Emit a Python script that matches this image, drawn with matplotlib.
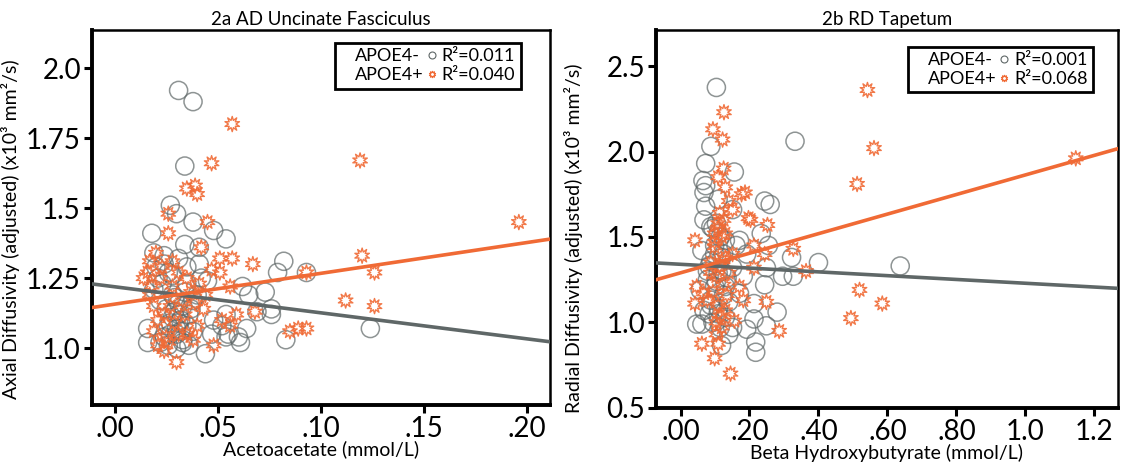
import matplotlib
matplotlib.use("Agg")
import matplotlib.pyplot as plt
from matplotlib.lines import Line2D
import numpy as np

plt.rcParams['font.family'] = ['Lato', 'DejaVu Sans']

GRAY = '#5f6767'
ORANGE = '#f06a35'

# ---- 2a : Acetoacetate vs AD Uncinate Fasciculus ----
aa_neg_x = [0.031, 0.038, 0.034, 0.027, 0.030, 0.038, 0.018, 0.048, 0.054, 0.034,
            0.041, 0.041, 0.082, 0.079, 0.093, 0.062, 0.073, 0.065, 0.076, 0.076,
            0.069, 0.054, 0.064, 0.060, 0.061, 0.054, 0.047, 0.083, 0.124, 0.044,
            0.036, 0.016, 0.016, 0.022, 0.026, 0.019, 0.024, 0.031, 0.021, 0.026,
            0.035, 0.028, 0.022, 0.031, 0.038, 0.028, 0.032, 0.035, 0.030, 0.024,
            0.033, 0.038, 0.031, 0.026, 0.019, 0.042, 0.035, 0.048, 0.052, 0.055,
            0.029, 0.033, 0.027, 0.030, 0.036, 0.025, 0.032, 0.029, 0.034, 0.023,
            0.028, 0.031, 0.037, 0.020, 0.027, 0.033, 0.040, 0.045, 0.024, 0.030]
aa_neg_y = [1.92, 1.88, 1.65, 1.51, 1.48, 1.45, 1.41, 1.42, 1.39, 1.37,
            1.36, 1.30, 1.31, 1.27, 1.27, 1.22, 1.20, 1.19, 1.14, 1.12,
            1.13, 1.12, 1.07, 1.04, 1.02, 1.04, 1.05, 1.03, 1.07, 0.98,
            1.01, 1.07, 1.02, 1.02, 1.01, 1.34, 1.30, 1.32, 1.25, 1.27,
            1.23, 1.19, 1.17, 1.16, 1.17, 1.11, 1.10, 1.08, 1.05, 1.04,
            1.03, 1.06, 1.12, 1.08, 1.21, 1.25, 1.29, 1.10, 1.08, 1.05,
            1.13, 1.15, 1.09, 1.07, 1.12, 1.14, 1.06, 1.18, 1.20, 1.23,
            1.26, 1.09, 1.14, 1.29, 1.05, 1.02, 1.19, 1.24, 1.33, 1.00]
aa_pos_x = [0.057, 0.047, 0.119, 0.035, 0.039, 0.040, 0.026, 0.026, 0.045, 0.042,
            0.196, 0.057, 0.051, 0.067, 0.120, 0.126, 0.051, 0.093, 0.112, 0.126,
            0.056, 0.068, 0.052, 0.085, 0.089, 0.093, 0.030, 0.024, 0.014, 0.016,
            0.020, 0.017, 0.019, 0.024, 0.019, 0.038, 0.040, 0.035, 0.031, 0.028,
            0.035, 0.041, 0.043, 0.028, 0.022, 0.047, 0.059, 0.026, 0.021, 0.056,
            0.048, 0.018, 0.023, 0.033, 0.037, 0.029, 0.021, 0.034, 0.039, 0.025,
            0.031, 0.044, 0.017, 0.027]
aa_pos_y = [1.80, 1.66, 1.67, 1.57, 1.58, 1.55, 1.48, 1.41, 1.45, 1.36,
            1.45, 1.32, 1.32, 1.30, 1.33, 1.27, 1.27, 1.27, 1.17, 1.15,
            1.22, 1.13, 1.10, 1.06, 1.07, 1.07, 0.95, 0.99, 1.25, 1.27,
            1.34, 1.19, 1.15, 1.12, 1.06, 1.03, 1.08, 1.05, 1.05, 1.22,
            1.25, 1.23, 1.14, 1.31, 1.25, 1.28, 1.12, 1.02, 1.01, 1.08,
            1.01, 1.22, 1.29, 1.17, 1.20, 1.09, 1.10, 1.12, 1.16, 1.04,
            1.27, 1.19, 1.31, 1.15]
aa_fit_neg = (1.219, -0.93)   # intercept, slope
aa_fit_pos = (1.157, 1.10)
aa_r2 = ('0.011', '0.040')

# ---- 2b : Beta Hydroxybutyrate vs RD Tapetum ----
bhb_neg_x = [0.104, 0.332, 0.088, 0.073, 0.065, 0.073, 0.068, 0.156, 0.244, 0.260,
             0.073, 0.151, 0.068, 0.088, 0.234, 0.255, 0.161, 0.171, 0.192, 0.322,
             0.400, 0.637, 0.296, 0.327, 0.249, 0.244, 0.213, 0.182, 0.280, 0.213,
             0.249, 0.192, 0.218, 0.218, 0.151, 0.062, 0.057, 0.062, 0.088, 0.109,
             0.130, 0.088, 0.109, 0.068, 0.119, 0.109, 0.130, 0.083, 0.140, 0.099,
             0.151, 0.171, 0.109, 0.125, 0.078, 0.047,
             0.094, 0.115, 0.099, 0.120, 0.083, 0.135, 0.104, 0.125, 0.088, 0.110,
             0.140, 0.094, 0.115, 0.078, 0.130, 0.104, 0.120, 0.099]
bhb_neg_y = [2.375, 2.06, 2.03, 1.93, 1.83, 1.80, 1.76, 1.88, 1.71, 1.69,
             1.68, 1.66, 1.60, 1.56, 1.52, 1.45, 1.45, 1.48, 1.40, 1.38,
             1.35, 1.33, 1.27, 1.27, 1.32, 1.22, 1.11, 1.27, 1.06, 1.02,
             0.98, 0.96, 0.885, 0.825, 0.97, 0.99, 1.19, 1.42, 1.36, 1.29,
             1.21, 1.13, 1.05, 1.07, 0.865, 1.52, 1.48, 1.05, 0.93, 1.21,
             1.32, 1.17, 1.72, 1.40, 1.30, 0.99,
             1.55, 1.50, 1.45, 1.38, 1.33, 1.26, 1.24, 1.16, 1.10, 1.08,
             1.12, 1.00, 0.97, 1.25, 1.03, 1.58, 1.30, 1.40]
bhb_pos_x = [0.542, 0.126, 0.094, 0.122, 0.561, 1.146, 0.125, 0.109, 0.130, 0.512,
             0.187, 0.177, 0.140, 0.151, 0.197, 0.203, 0.252, 0.125, 0.099, 0.042,
             0.213, 0.327, 0.364, 0.519, 0.585, 0.494, 0.249, 0.286, 0.145, 0.099,
             0.062, 0.109, 0.104, 0.047, 0.042, 0.068, 0.088, 0.120, 0.151, 0.171,
             0.182, 0.130, 0.156, 0.213, 0.244, 0.099, 0.114, 0.078, 0.140,
             0.109, 0.120, 0.099, 0.130, 0.114, 0.104, 0.125, 0.094, 0.109, 0.135,
             0.115, 0.104, 0.120, 0.088, 0.130, 0.109]
bhb_pos_y = [2.36, 2.23, 2.13, 2.07, 2.02, 1.96, 1.90, 1.85, 1.79, 1.81,
             1.76, 1.75, 1.71, 1.66, 1.61, 1.60, 1.57, 1.60, 1.52, 1.48,
             1.45, 1.43, 1.30, 1.19, 1.11, 1.025, 1.12, 0.95, 0.70, 0.79,
             0.875, 0.875, 0.93, 1.21, 1.11, 1.17, 1.29, 1.36, 1.40, 1.21,
             1.13, 1.07, 1.01, 1.32, 1.40, 1.44, 1.64, 1.13, 1.29,
             1.55, 1.50, 1.47, 1.38, 1.33, 1.27, 1.22, 1.18, 1.10, 1.16,
             1.04, 1.00, 0.97, 1.35, 1.52, 1.58]
bhb_fit_neg = (1.340, -0.111)
bhb_fit_pos = (1.290, 0.573)
bhb_r2 = ('0.001', '0.068')

star = (10, 1, 0)

fig = plt.figure(figsize=(11.22, 4.72), dpi=100)
ax1 = fig.add_axes([0.082, 0.142, 0.408, 0.794])
ax2 = fig.add_axes([0.585, 0.136, 0.411, 0.800])


def panel(ax, xn, yn, xp, yp, fit_n, fit_p, r2, xlim, ylim, xticks, xlabs,
          yticks, ylabs, title, xlabel, ylabel, ylab_pos, leg_anchor):
    ax.scatter(xn, yn, s=170, facecolors='none', edgecolors=GRAY,
               linewidths=1.1, alpha=0.7, zorder=2)
    ax.scatter(xp, yp, s=120, marker=star, facecolors='none',
               edgecolors=ORANGE, linewidths=1.0, alpha=0.9, zorder=3)
    xx = np.array(xlim)
    ax.plot(xx, fit_n[0] + fit_n[1] * xx, color=GRAY, lw=2.6, zorder=4)
    ax.plot(xx, fit_p[0] + fit_p[1] * xx, color=ORANGE, lw=2.6, zorder=4)
    ax.set_xlim(xlim)
    ax.set_ylim(ylim)
    ax.set_xticks(xticks)
    ax.set_xticklabels(xlabs)
    ax.set_yticks(yticks)
    ax.set_yticklabels(ylabs)
    ax.tick_params(labelsize=20, length=6, width=2.2, direction='out', pad=2)
    for s in ['left', 'bottom']:
        ax.spines[s].set_linewidth(2.8)
    for s in ['top', 'right']:
        ax.spines[s].set_linewidth(1.8)
    ax.set_title(title, fontsize=13.5, pad=4)
    ax.set_xlabel(xlabel, fontsize=14, labelpad=-1)
    ax.set_ylabel(ylabel, fontsize=14)
    ax.yaxis.set_label_coords(*ylab_pos)

    blank = Line2D([], [], lw=0)
    hn = Line2D([], [], ls='none', marker='o', mfc='none', mec=GRAY, ms=5, mew=0.8)
    hp = Line2D([], [], ls='none', marker=star, mfc='none', mec=ORANGE, ms=5, mew=0.8)
    leg = ax.legend([blank, blank, hn, hp],
                    ['APOE4-', 'APOE4+', 'R\u00b2=' + r2[0], 'R\u00b2=' + r2[1]],
                    ncol=2, loc='upper right', bbox_to_anchor=leg_anchor,
                    fontsize=13, handlelength=0.5, handletextpad=0.3,
                    columnspacing=0.2, labelspacing=0.15, borderpad=0.3,
                    fancybox=False, framealpha=1, edgecolor='black')
    leg.get_frame().set_linewidth(2.0)


panel(ax1, aa_neg_x, aa_neg_y, aa_pos_x, aa_pos_y, aa_fit_neg, aa_fit_pos, aa_r2,
      (-0.011, 0.211), (0.797, 2.135),
      [0.0, 0.05, 0.10, 0.15, 0.20], ['.00', '.05', '.10', '.15', '.20'],
      [1.0, 1.25, 1.5, 1.75, 2.0], ['1.0', '1.25', '1.5', '1.75', '2.0'],
      '2a AD Uncinate Fasciculus', 'Acetoacetate (mmol/L)',
      'Axial Diffusivity (adjusted) (x10\u00b3 mm\u00b2/s)', (-0.157, 0.47),
      (0.956, 0.99))

panel(ax2, bhb_neg_x, bhb_neg_y, bhb_pos_x, bhb_pos_y, bhb_fit_neg, bhb_fit_pos, bhb_r2,
      (-0.07, 1.267), (0.5, 2.71),
      [0.0, 0.2, 0.4, 0.6, 0.8, 1.0, 1.2], ['.00', '.20', '.40', '.60', '.80', '1.0', '1.2'],
      [0.5, 1.0, 1.5, 2.0, 2.5], ['0.5', '1.0', '1.5', '2.0', '2.5'],
      '2b RD Tapetum', 'Beta Hydroxybutyrate (mmol/L)',
      'Radial Diffusivity (adjusted) (x10\u00b3 mm\u00b2/s)', (-0.16, 0.45),
      (0.967, 0.98))

fig.savefig('out.png', dpi=100)
